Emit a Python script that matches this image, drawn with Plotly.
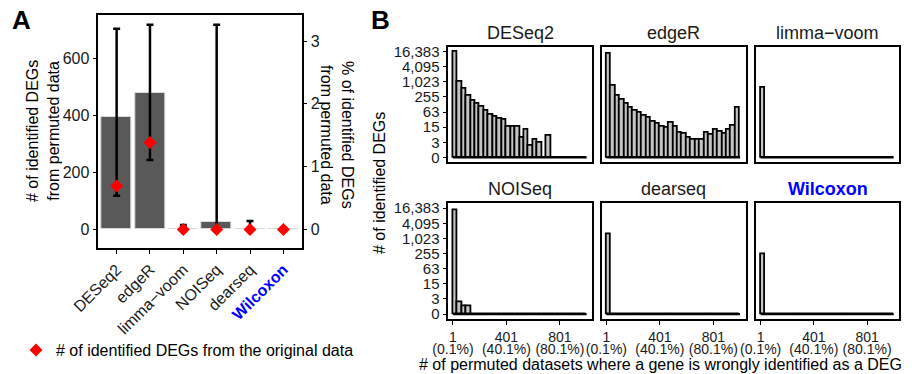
import numpy as np
import plotly.graph_objects as go

# ---------------- Panel A data ----------------
methods = ["DESeq2", "edgeR", "limma-voom", "NOISeq", "dearseq", "Wilcoxon"]
method_labels = ["DESeq2", "edgeR", "limma\u2212voom", "NOISeq", "dearseq",
                 "<span style='color:#0000FF'><b>Wilcoxon</b></span>"]
perm_mean = [393, 477, 2, 27, 2, 1]        # mean # DEGs from permuted data
perm_low = [118, 243, 0, 0, 0, 1]          # lower end of error bar
perm_high = [702, 716, 16, 716, 30, 1]     # upper end of error bar
orig_degs = [152, 304, 0, 0, 0, 0]         # # DEGs from original data
N_GENES = 21980                            # for the % secondary axis
left_ticks = [0, 200, 400, 600]
right_ticks = [0, 1, 2, 3]

# ---------------- Panel B data ----------------
hist_methods = ["DESeq2", "edgeR", "limma\u2212voom", "NOISeq", "dearseq",
                "<b>Wilcoxon</b>"]
bin_first = 1
bin_last = 1001
n_bins = 30
deseq2_hist = [17000, 1070, 540, 275, 178, 140, 108, 72, 50, 42, 34, 32, 15, 15, 15,
               5, 12, 2, 4, 3, 0, 6, 0, 0, 0, 0, 0, 0, 0, 0]
edger_hist = [13000, 720, 290, 195, 135, 92, 74, 60, 46, 36, 26, 21, 16, 14, 24,
              16, 9, 8, 5, 4, 4, 4, 9, 7, 12, 10, 8, 12, 17, 98]
limma_hist = [583] + [0] * 29
noiseq_hist = [14000, 2, 1, 1] + [0] * 26
dearseq_hist = [1500] + [0] * 29
wilcoxon_hist = [235] + [0] * 29
hist_counts = [deseq2_hist, edger_hist, limma_hist, noiseq_hist, dearseq_hist, wilcoxon_hist]
hist_ytick_labels = [0, 3, 15, 63, 255, 1023, 4095, 16383]
hist_xtick_vals = [1, 401, 801]
hist_xtick_text = ["1", "401", "801"]
hist_xtick_pct = ["(0.1%)", "(40.1%)", "(80.1%)"]

FONT = "Liberation Sans, Arial, sans-serif"
W, H = 922, 374

def px_x(p):
    return p / W

def px_y(p):
    return 1 - p / H

fig = go.Figure()

# ---- Panel A ----
fig.add_trace(go.Bar(
    x=methods, y=perm_mean, width=0.9,
    marker=dict(color="#595959", line=dict(color="#d9d9d9", width=1)),
    error_y=dict(type="data", symmetric=False,
                 array=[h - m for h, m in zip(perm_high, perm_mean)],
                 arrayminus=[m - l for m, l in zip(perm_mean, perm_low)],
                 color="black", thickness=2.5, width=3.5),
    xaxis="x", yaxis="y", showlegend=False, hoverinfo="skip"))
fig.add_trace(go.Scatter(
    x=methods, y=orig_degs, mode="markers",
    marker=dict(symbol="diamond", size=10, color="red"),
    name="# of identified DEGs from the original data",
    xaxis="x", yaxis="y", showlegend=True))
fig.add_trace(go.Scatter(
    x=methods, y=[v / N_GENES * 100 for v in perm_mean], mode="markers",
    marker=dict(opacity=0), xaxis="x", yaxis="y2", showlegend=False, hoverinfo="skip"))

yA_range = [-65.8, 750.5]
common_axis = dict(showgrid=False, zeroline=False, showline=True, linecolor="black",
                   linewidth=1.5, ticks="outside", ticklen=4, tickwidth=1.3,
                   tickcolor="black", automargin=False,
                   tickfont=dict(family=FONT, size=16, color="#1a1a1a"))

layout = dict(
    width=W, height=H, margin=dict(l=0, r=0, t=0, b=0, autoexpand=False),
    paper_bgcolor="white", plot_bgcolor="white",
    font=dict(family=FONT, size=16, color="black"),
    bargap=0,
    showlegend=True,
    legend=dict(x=px_x(16), y=px_y(350), xanchor="left", yanchor="middle",
                font=dict(family=FONT, size=16, color="black"),
                bgcolor="rgba(0,0,0,0)"),
    xaxis=dict(domain=[px_x(98.3), px_x(301.7)], anchor="y", type="category",
               range=[-0.55, 5.55], tickmode="array", tickvals=methods,
               ticktext=method_labels, tickangle=-45, mirror=True, **common_axis),
    yaxis=dict(domain=[px_y(248.3), px_y(15)], anchor="x", range=yA_range,
               tickmode="array", tickvals=left_ticks, mirror=True, **common_axis),
    yaxis2=dict(overlaying="y", side="right", anchor="x",
                range=[v / N_GENES * 100 for v in yA_range],
                tickmode="array", tickvals=right_ticks, **common_axis),
)

# ---- Panel B ----
edges = np.linspace(bin_first, bin_last, n_bins + 1)
centers = (edges[:-1] + edges[1:]) / 2
bw = edges[1] - edges[0]
col_x = [(448.3, 592.3), (601.7, 745.7), (756.0, 899.3)]
row_y = [(46.7, 162.3), (203.3, 319.0)]
hist_ytick_vals = [float(np.log2(v + 1)) for v in hist_ytick_labels]
x_range_B = [-34, 1043]

annotations = []
for i, counts in enumerate(hist_counts):
    r, c = divmod(i, 3)
    ax_n = i + 3
    xa, ya = f"x{ax_n}", f"y{ax_n}"
    fig.add_trace(go.Bar(
        x=centers, y=np.log2(np.array(counts) + 1), width=bw,
        marker=dict(color="#c4c4c4", line=dict(color="black", width=1.8)),
        xaxis=xa, yaxis=ya, showlegend=False, hoverinfo="skip"))
    fig.add_trace(go.Scatter(
        x=[edges[0], edges[-1]], y=[0, 0], mode="lines",
        line=dict(color="black", width=2.4), xaxis=xa, yaxis=ya,
        showlegend=False, hoverinfo="skip"))
    x0, x1 = col_x[c]
    y0, y1 = row_y[r]
    layout[f"xaxis{ax_n}"] = dict(
        domain=[px_x(x0), px_x(x1)], anchor=ya, range=x_range_B,
        showgrid=False, zeroline=False, showline=True, mirror=True,
        linecolor="black", linewidth=1.5, automargin=False,
        ticks="outside" if r == 1 else "", ticklen=4, tickwidth=1.3, tickcolor="black",
        showticklabels=(r == 1), tickmode="array", tickvals=hist_xtick_vals,
        ticktext=hist_xtick_text, tickangle=0,
        tickfont=dict(family=FONT, size=14, color="#1a1a1a"))
    layout[f"yaxis{ax_n}"] = dict(
        domain=[px_y(y1), px_y(y0)], anchor=xa, range=[-0.65, 14.65],
        showgrid=False, zeroline=False, showline=True, mirror=True,
        linecolor="black", linewidth=1.5, automargin=False,
        ticks="outside" if c == 0 else "", ticklen=4, tickwidth=1.3, tickcolor="black",
        showticklabels=(c == 0), tickmode="array", tickvals=hist_ytick_vals,
        ticktext=[f"{v:,}" for v in hist_ytick_labels],
        tickfont=dict(family=FONT, size=15, color="#1a1a1a"))
    color = "#0000FF" if "Wilcoxon" in hist_methods[i] else "#1a1a1a"
    annotations.append(dict(
        text=hist_methods[i], x=px_x((x0 + x1) / 2), y=px_y(y0 - 14),
        xref="paper", yref="paper", showarrow=False, xanchor="center", yanchor="middle",
        font=dict(family=FONT, size=18, color=color)))
    # second line of x tick labels (percentages) on an overlaid axis
    if r == 1:
        ov_n = 9 + c
        fig.add_trace(go.Scatter(
            x=hist_xtick_vals, y=[0] * len(hist_xtick_vals), mode="markers",
            marker=dict(opacity=0), xaxis=f"x{ov_n}", yaxis=ya,
            showlegend=False, hoverinfo="skip"))
        layout[f"xaxis{ov_n}"] = dict(
            overlaying=xa, anchor=ya, side="bottom", range=x_range_B,
            showgrid=False, zeroline=False, showline=False,
            ticks="outside", ticklen=17, tickcolor="rgba(0,0,0,0)",
            automargin=False, tickmode="array", tickvals=hist_xtick_vals,
            ticktext=hist_xtick_pct, tickangle=0,
            tickfont=dict(family=FONT, size=14, color="#1a1a1a"))

# titles and panel letters
def ann(text, x, y, size=16, angle=0):
    return dict(text=text, x=px_x(x), y=px_y(y), xref="paper", yref="paper",
                showarrow=False, xanchor="center", yanchor="middle", textangle=angle,
                font=dict(family=FONT, size=size, color="black"))

annotations += [
    ann("<b>A</b>", 21, 20, size=26),
    ann("<b>B</b>", 380, 20, size=26),
    ann("# of identified DEGs<br>from permuted data", 43, 131, angle=-90),
    ann("% of identified DEGs<br>from permuted data", 337, 135, angle=90),
    ann("# of identified DEGs", 380, 183, angle=-90),
    ann("# of permuted datasets where a gene is wrongly identified as a DEG", 660, 364.5),
]
layout["annotations"] = annotations

fig.update_layout(**layout)
fig.write_html("out.html", config={"displayModeBar": False},
               post_script="document.body.style.margin='0px';")
